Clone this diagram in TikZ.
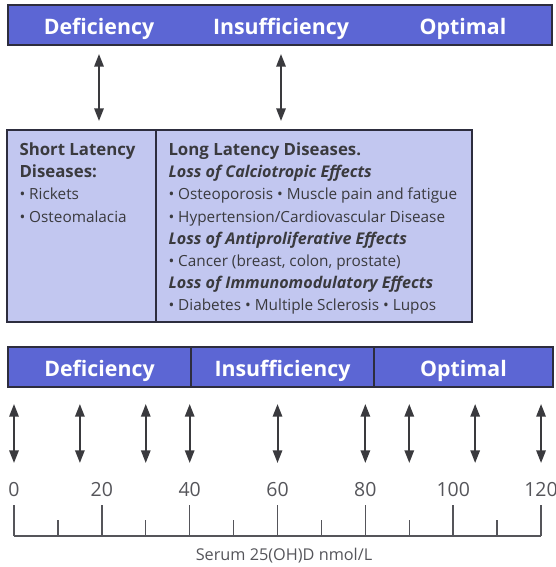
\documentclass[tikz,border=0pt]{standalone}
\usepackage{fontspec}
\setmainfont{Open Sans}
\usetikzlibrary{arrows.meta,positioning}

\definecolor{barblue}{RGB}{92,102,212}
\definecolor{panellav}{RGB}{194,199,240}
\definecolor{edgedark}{RGB}{45,45,62}
\definecolor{inkgray}{RGB}{58,58,62}
\definecolor{axisgray}{RGB}{85,85,90}

\tikzset{every picture/.style={line width=0.75pt}}
\tikzset{
  band/.style={draw=edgedark, line width=1.5pt, fill=barblue, inner sep=0pt, minimum height=30pt},
  bandlabel/.style={text=white, font=\fontsize{16}{19}\selectfont\bfseries, inner sep=0.75pt, anchor=base},
  panel/.style={draw=edgedark, line width=1.5pt, fill=panellav, inner sep=0pt, minimum height=144pt},
  headline/.style={text=inkgray, font=\fontsize{12.6}{15}\selectfont\bfseries, inner sep=0.75pt, anchor=base west},
  subhead/.style={text=inkgray, font=\fontsize{12.1}{14}\selectfont\bfseries\itshape, inner sep=0.75pt, anchor=base west},
  item/.style={text=inkgray, font=\fontsize{11.5}{14}\selectfont, inner sep=0.75pt, anchor=base west},
  dbl/.style={{Triangle[length=9.5pt,width=7pt]}-{Triangle[length=9.5pt,width=7pt]}, draw=inkgray, line width=1.5pt},
  ticklabel/.style={text=axisgray, font=\fontsize{14.6}{17}\selectfont, inner sep=0.75pt, anchor=base},
  axisline/.style={draw=axisgray, line width=1.1pt}
}

\begin{document}
\begin{tikzpicture}[x=0.75pt,y=0.75pt,yscale=-1,xscale=1]
\useasboundingbox (0,0) rectangle (556,567);

%Shape: Rectangle [id:topbar]
\node[band, minimum width=408pt] (topbar) at (280,25) {};
% Text Node
\node[bandlabel] (tdef) at (99,35) {Deficiency};
% Text Node
\node[bandlabel] (tins) at (281,35) {Insufficiency};
% Text Node
\node[bandlabel] (topt) at (463,35) {Optimal};

%Shape: Rectangle [id:shortp]
\node[panel, minimum width=111.75pt] (shortp) at (81.5,226) {};
%Shape: Rectangle [id:longp]
\node[panel, minimum width=237pt] (longp) at (314,226) {};

%Straight Lines [id:top arrows]
\draw[dbl, shorten <=6pt, shorten >=6pt] (topbar.south -| tdef) -- (shortp.north -| tdef);
\draw[dbl, shorten <=6pt, shorten >=6pt] (topbar.south -| tins) -- (longp.north -| tins);

% Text Node
\node[headline] (s1) at (18,155) {Short Latency};
% Text Node
\node[headline] (s2) at (18,177) {Diseases:};
% Text Node
\node[item] (s3) at (18,199.5) {• Rickets};
% Text Node
\node[item] (s4) at (18,222) {• Osteomalacia};

% Text Node
\node[headline] (l1) at (167,155) {Long Latency Diseases.};
% Text Node
\node[subhead] (l2) at (167,177) {Loss of Calciotropic Effects};
% Text Node
\node[item] (l3) at (167,199.5) {• Osteoporosis • Muscle pain and fatigue};
% Text Node
\node[item] (l4) at (167,222) {• Hypertension/Cardiovascular Disease};
% Text Node
\node[subhead] (l5) at (167,244) {Loss of Antiproliferative Effects};
% Text Node
\node[item] (l6) at (167,266.5) {• Cancer (breast, colon, prostate)};
% Text Node
\node[subhead] (l7) at (167,288.5) {Loss of Immunomodulatory Effects};
% Text Node
\node[item] (l8) at (167,310.5) {• Diabetes • Multiple Sclerosis • Lupos};

%Shape: Rectangle [id:bottom bar]
\node[band, minimum width=137.25pt] (bdef) at (99.5,367) {};
\node[band, minimum width=137.25pt] (bins) at (282.5,367) {};
\node[band, minimum width=134.25pt] (bopt) at (463.5,367) {};
% Text Node
\node[bandlabel] (bdeft) at (99.5,376) {Deficiency};
% Text Node
\node[bandlabel] (binst) at (282.5,376) {Insufficiency};
% Text Node
\node[bandlabel] (boptt) at (463.5,376) {Optimal};

%Straight Lines [id:bottom arrows]
\foreach \v in {0,15,30,40,60,80,90,105,120}{
  \coordinate (up\v) at (14+4.392*\v,404);
  \coordinate (dn\v) at (14+4.392*\v,463);
  \draw[dbl] (up\v) -- (dn\v);
}

%Straight Lines [id:axis]
\coordinate (ax0) at (14,536);
\coordinate (ax120) at (541,536);
\draw[axisline] (ax0) -- (ax120);
\foreach \v in {0,20,...,120}{
  \draw[axisline] (14+4.392*\v,536) -- (14+4.392*\v,505);
  \node[ticklabel] (lbl\v) at (14+4.392*\v,496) {\v};
}
\foreach \v in {10,30,...,110}{
  \draw[axisline] (14+4.392*\v,536) -- (14+4.392*\v,520);
}
% Text Node
\node[text=axisgray, font=\fontsize{12.2}{15}\selectfont, inner sep=0.75pt, anchor=base] (unit) at (284,560) {Serum 25(OH)D nmol/L};

\end{tikzpicture}
\end{document}
